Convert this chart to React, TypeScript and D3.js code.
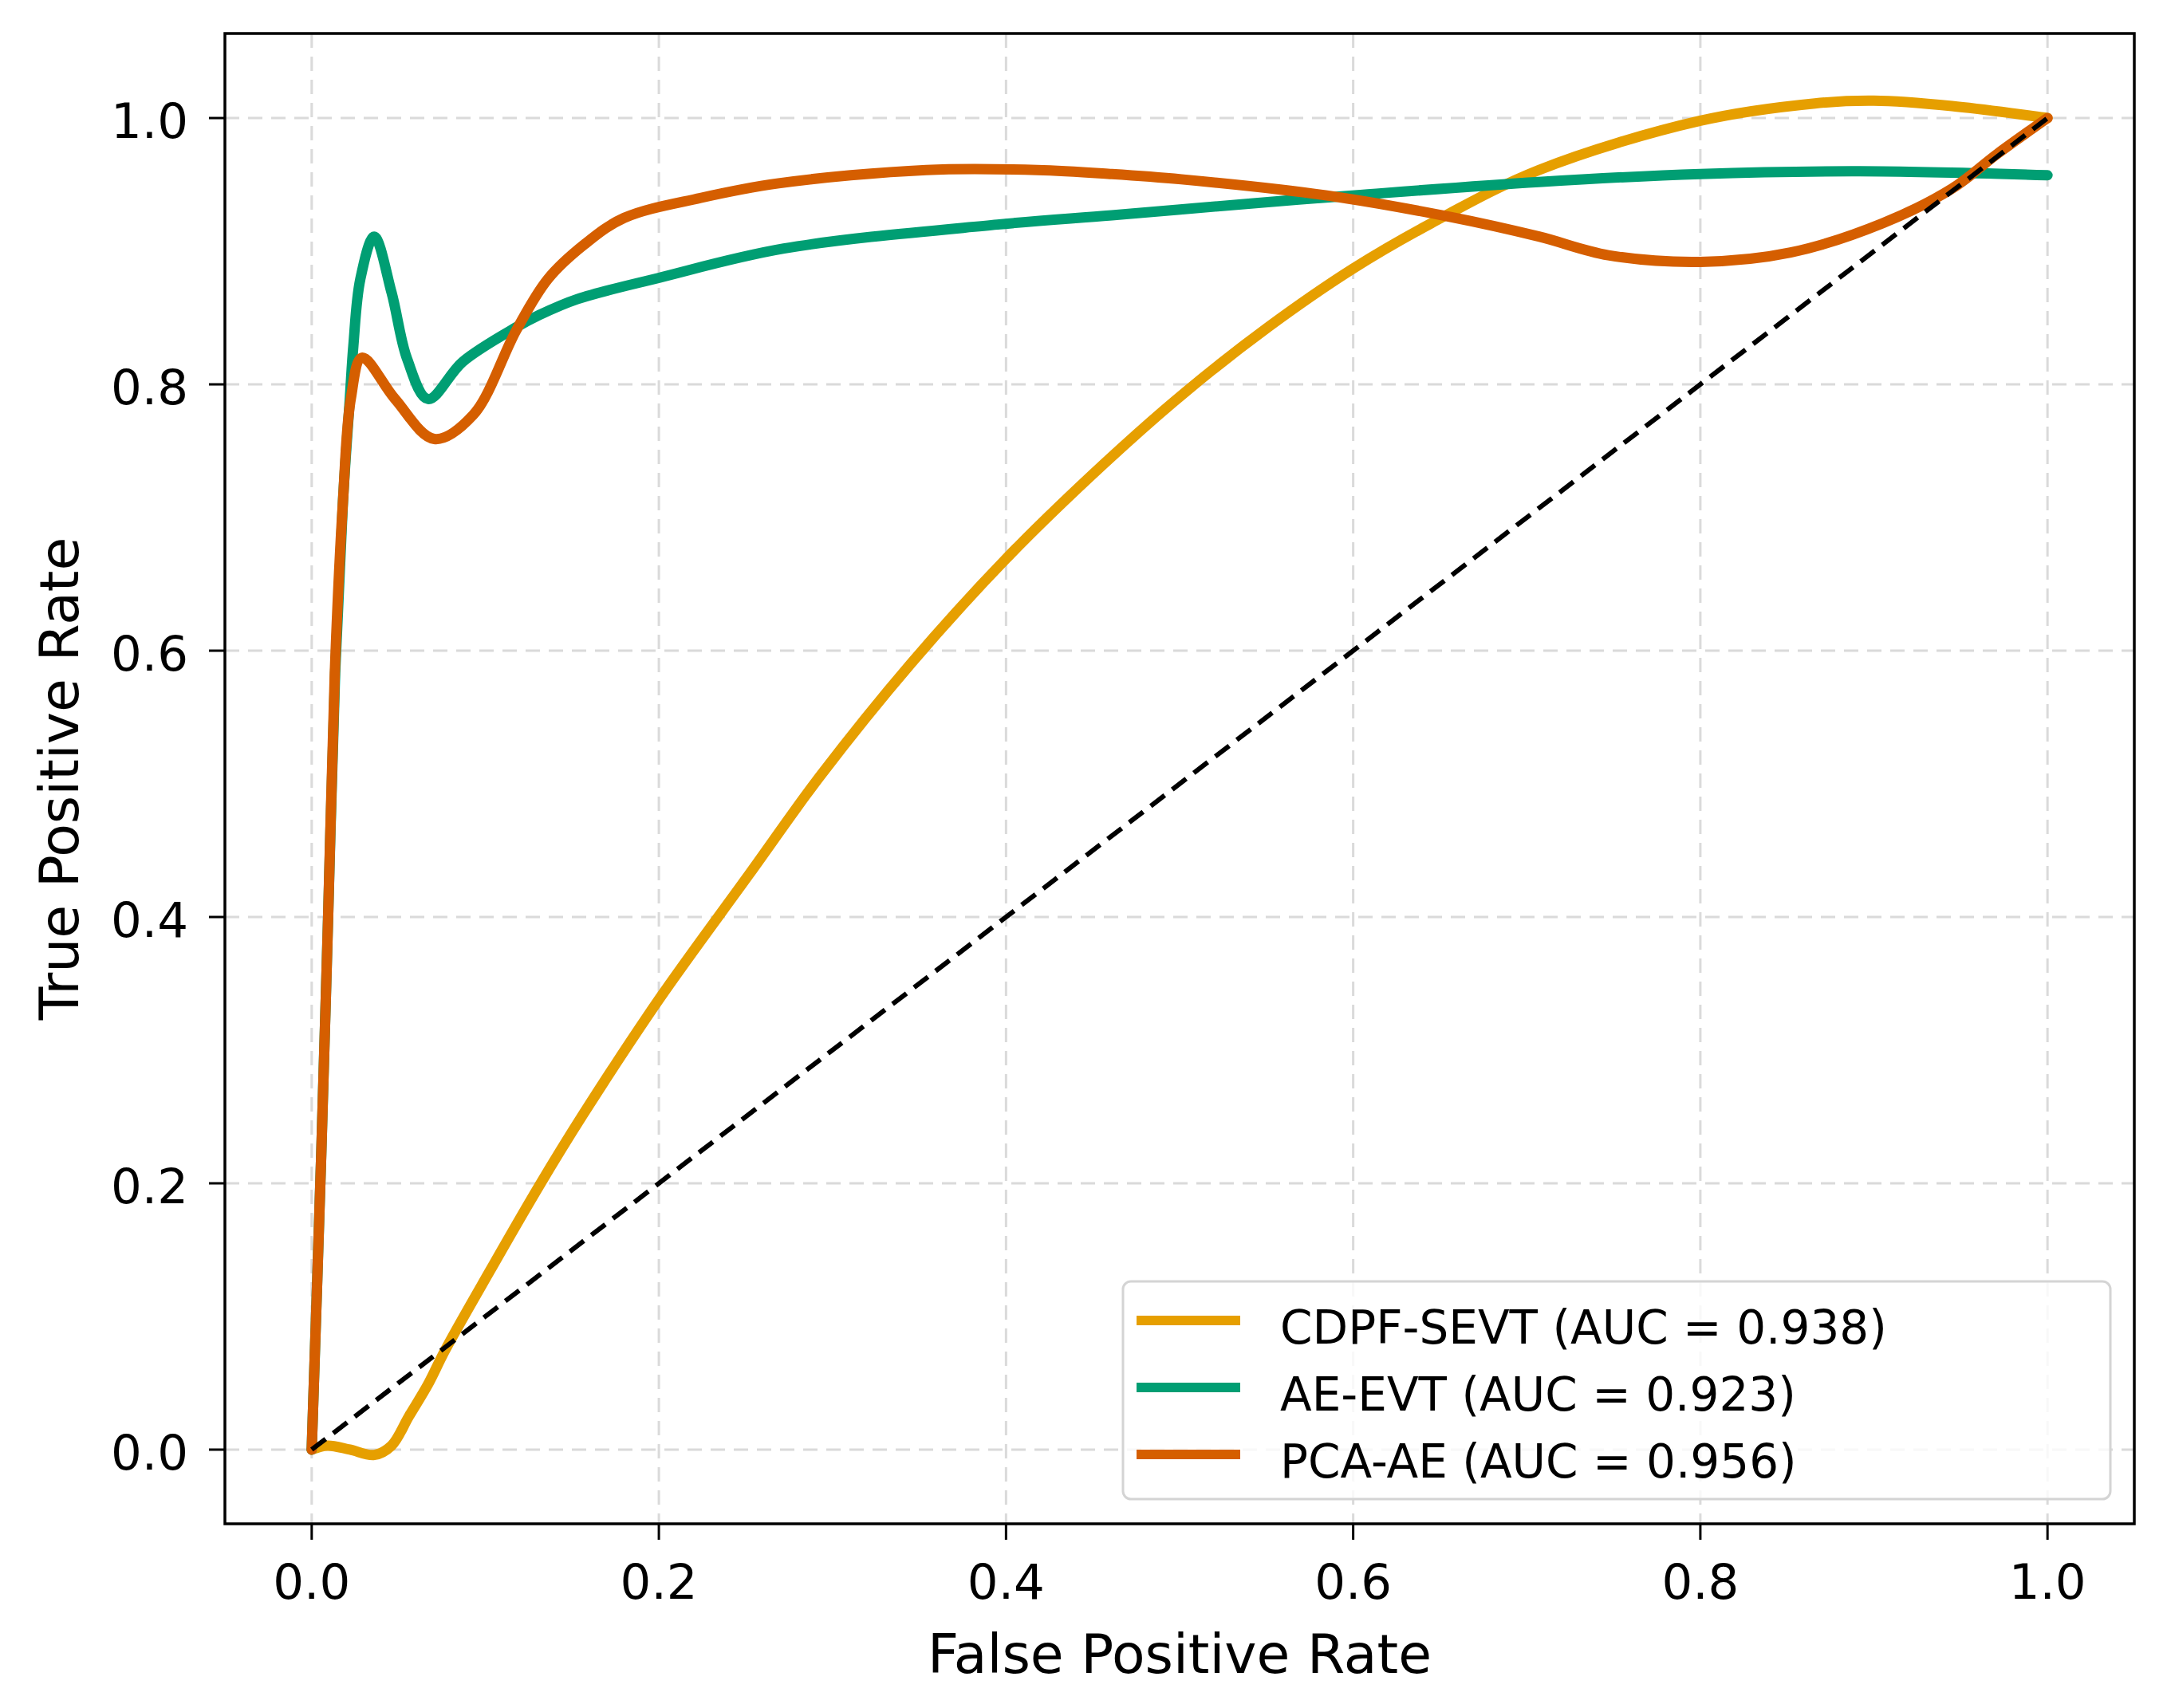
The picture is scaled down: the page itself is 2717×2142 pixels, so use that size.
import * as d3 from "d3";

type Pt = [number, number];

// [false positive rate, true positive rate]
const cdpfSevt: Pt[] = [
    [0, 0], [0.009, 0.003], [0.022, 0.0], [0.036, -0.004], [0.046, 0.003],
    [0.056, 0.025], [0.067, 0.049], [0.077, 0.075], [0.103, 0.135], [0.131, 0.198],
    [0.156, 0.251], [0.2, 0.338], [0.252, 0.432], [0.293, 0.506], [0.345, 0.59],
    [0.4, 0.669], [0.457, 0.741], [0.504, 0.795], [0.551, 0.843], [0.6, 0.887],
    [0.645, 0.921], [0.707, 0.961], [0.8, 0.998], [0.866, 1.011], [0.9, 1.013],
    [0.945, 1.009], [1.0, 1.0],
];

const aeEvt: Pt[] = [
    [0, 0], [0.0055, 0.222], [0.0095, 0.402], [0.0135, 0.583], [0.018, 0.712],
    [0.022, 0.79], [0.024, 0.829], [0.028, 0.879], [0.036, 0.911], [0.046, 0.869],
    [0.055, 0.819], [0.067, 0.789], [0.087, 0.817], [0.118, 0.843], [0.131, 0.852],
    [0.153, 0.864], [0.2, 0.88], [0.272, 0.902], [0.395, 0.92], [0.461, 0.927],
    [0.5425, 0.936], [0.601, 0.942], [0.707, 0.952], [0.8, 0.958], [0.892, 0.96],
    [1.0, 0.957],
];

const pcaAe: Pt[] = [
    [0, 0], [0.0055, 0.222], [0.0095, 0.402], [0.0133, 0.583], [0.018, 0.712],
    [0.0225, 0.789], [0.029, 0.82], [0.048, 0.789], [0.0706, 0.759], [0.093, 0.777],
    [0.118, 0.841], [0.136, 0.879], [0.157, 0.905], [0.18, 0.925], [0.224, 0.94],
    [0.269, 0.951], [0.354, 0.961], [0.418, 0.961], [0.461, 0.958], [0.501, 0.954],
    [0.584, 0.942], [0.655, 0.926], [0.707, 0.911], [0.747, 0.897], [0.8, 0.892],
    [0.852, 0.899], [0.905, 0.921], [0.945, 0.947], [0.971, 0.973], [1.0, 1.0],
];

const chance: Pt[] = [[0, 0], [1, 1]];

const seriesNames = ["CDPF-SEVT", "AE-EVT", "PCA-AE"];
const seriesAuc = [0.938, 0.923, 0.956];
const seriesColors = ["#E69F00", "#009E73", "#D55E00"];
const seriesData = [cdpfSevt, aeEvt, pcaAe];

const W = 2717;
const H = 2142;
const frame = { left: 282, right: 2676, top: 42, bottom: 1911 };
const font = "'DejaVu Sans', sans-serif";

export default function App() {
    const x = d3.scaleLinear().domain([-0.05, 1.05]).range([frame.left, frame.right]);
    const y = d3.scaleLinear().domain([-0.0557, 1.0635]).range([frame.bottom, frame.top]);

    const xTicks = x.ticks(5);
    const yTicks = y.ticks(5);
    const fmt = d3.format(".1f");

    const line = d3
        .line<Pt>()
        .x((d) => x(d[0]))
        .y((d) => y(d[1]))
        .curve(d3.curveCatmullRom.alpha(0.5));

    const straight = d3
        .line<Pt>()
        .x((d) => x(d[0]))
        .y((d) => y(d[1]));

    // legend box
    const lg = { x: 1408, y: 1607, w: 1238, h: 273, row0: 1656, rowGap: 84 };

    return (
        <svg
            width={W}
            height={H}
            viewBox={`0 0 ${W} ${H}`}
            style={{ position: "absolute", left: 0, top: 0, background: "#fff" }}
            fontFamily={font}
        >
            <rect x={0} y={0} width={W} height={H} fill="#fff" />

            {/* grid */}
            <g stroke="#dadada" strokeWidth={3} strokeDasharray="18 11">
                {xTicks.map((t) => (
                    <line key={"gx" + t} x1={x(t)} x2={x(t)} y1={frame.top} y2={frame.bottom} />
                ))}
                {yTicks.map((t) => (
                    <line key={"gy" + t} x1={frame.left} x2={frame.right} y1={y(t)} y2={y(t)} />
                ))}
            </g>

            {/* curves */}
            {seriesData.map((d, i) => (
                <path
                    key={seriesNames[i]}
                    d={line(d) ?? ""}
                    fill="none"
                    stroke={seriesColors[i]}
                    strokeWidth={13}
                    strokeLinejoin="round"
                    strokeLinecap="round"
                />
            ))}

            {/* chance line */}
            <path
                d={straight(chance) ?? ""}
                fill="none"
                stroke="#000"
                strokeWidth={6}
                strokeDasharray="22 12"
            />

            {/* frame */}
            <rect
                x={frame.left}
                y={frame.top}
                width={frame.right - frame.left}
                height={frame.bottom - frame.top}
                fill="none"
                stroke="#000"
                strokeWidth={3.5}
            />

            {/* x axis */}
            <g>
                {xTicks.map((t) => (
                    <g key={"xt" + t}>
                        <line x1={x(t)} x2={x(t)} y1={frame.bottom} y2={frame.bottom + 20} stroke="#000" strokeWidth={3} />
                        <text x={x(t)} y={2005} textAnchor="middle" fontSize={61} fill="#000">
                            {fmt(t)}
                        </text>
                    </g>
                ))}
                <text x={(frame.left + frame.right) / 2} y={2098} textAnchor="middle" fontSize={68} fill="#000">
                    False Positive Rate
                </text>
            </g>

            {/* y axis */}
            <g>
                {yTicks.map((t) => (
                    <g key={"yt" + t}>
                        <line x1={frame.left - 20} x2={frame.left} y1={y(t)} y2={y(t)} stroke="#000" strokeWidth={3} />
                        <text x={236} y={y(t) + 25} textAnchor="end" fontSize={61} fill="#000">
                            {fmt(t)}
                        </text>
                    </g>
                ))}
                <text
                    transform={`translate(98,${(frame.top + frame.bottom) / 2}) rotate(-90)`}
                    textAnchor="middle"
                    fontSize={68}
                    fill="#000"
                >
                    True Positive Rate
                </text>
            </g>

            {/* legend */}
            <g>
                <rect
                    x={lg.x}
                    y={lg.y}
                    width={lg.w}
                    height={lg.h}
                    rx={10}
                    fill="#fff"
                    fillOpacity={0.8}
                    stroke="#d4d4d4"
                    strokeWidth={3}
                />
                {seriesNames.map((name, i) => {
                    const ry = lg.row0 + i * lg.rowGap;
                    return (
                        <g key={"lg" + name}>
                            <line x1={1425} x2={1555} y1={ry} y2={ry} stroke={seriesColors[i]} strokeWidth={12} />
                            <text x={1605} y={ry + 29} fontSize={58} fill="#000">
                                {`${name} (AUC = ${seriesAuc[i].toFixed(3)})`}
                            </text>
                        </g>
                    );
                })}
            </g>
        </svg>
    );
}
